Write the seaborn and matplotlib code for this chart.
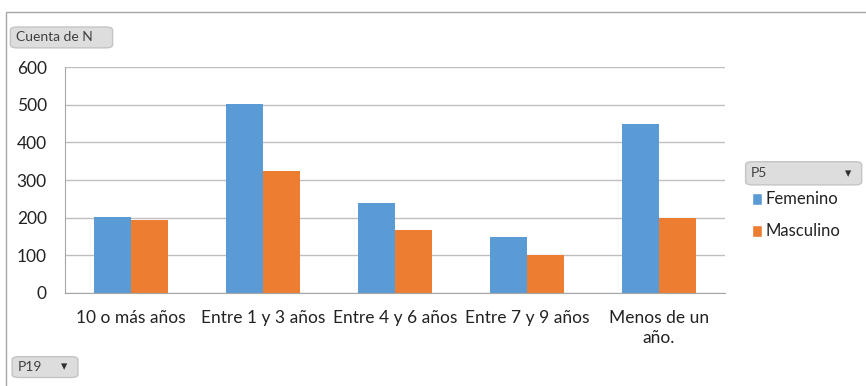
"""Cuenta de N por P19 y P5 (bar chart, Excel pivot style)."""
import matplotlib.pyplot as plt
import seaborn as sns
import pandas as pd
from matplotlib.patches import FancyBboxPatch, Rectangle

categories = ["10 o más años", "Entre 1 y 3 años", "Entre 4 y 6 años",
              "Entre 7 y 9 años", "Menos de un\naño."]
femenino = [202, 503, 238, 149, 450]
masculino = [194, 325, 167, 100, 200]
series = ["Femenino", "Masculino"]
colors = ["#5B9BD5", "#ED7D31"]

df = pd.DataFrame({
    "P19": categories * 2,
    "N": femenino + masculino,
    "P5": [series[0]] * len(categories) + [series[1]] * len(categories),
})

sns.set_style("white")
plt.rcParams['font.family'] = ['Lato', 'DejaVu Sans']

fig = plt.figure(figsize=(8.66, 3.86), dpi=100)
ax = fig.add_axes([0.075, 0.241, 0.762, 0.585])

sns.barplot(data=df, x="P19", y="N", hue="P5", palette=colors, width=0.56,
            saturation=1, linewidth=0, ax=ax, legend=False)

ax.set_ylim(0, 600)
ax.set_yticks(range(0, 601, 100))
ax.set_xlim(-0.5, len(categories) - 0.5)
ax.set_xlabel("")
ax.set_ylabel("")
ax.grid(axis="y", color="#BFBFBF", linewidth=1)
ax.set_axisbelow(True)
for s in ["top", "right"]:
    ax.spines[s].set_visible(False)
for s in ["left", "bottom"]:
    ax.spines[s].set_color("#A6A6A6")
ax.tick_params(axis="y", length=5, color="#A6A6A6", labelsize=12.5, pad=8,
               labelcolor="#222222")
ax.set_xticks(range(len(categories)))
ax.set_xticklabels(categories, linespacing=1.35)
ax.tick_params(axis="x", length=0, labelsize=12.5, pad=12, labelcolor="#222222")
# category boundary ticks
ax.set_xticks([i - 0.5 for i in range(len(categories) + 1)], minor=True)
ax.tick_params(axis="x", which="minor", length=5, color="#A6A6A6")

# outer frame
fig.patches.append(Rectangle((0.007, -0.1), 1.2, 1.069, transform=fig.transFigure,
                             fill=False, edgecolor="#A6A6A6", linewidth=1))

def button(x, y, w, h, text, arrow=False):
    fig.patches.append(FancyBboxPatch((x, y), w, h, transform=fig.transFigure,
                                      boxstyle="round,pad=0,rounding_size=0.008",
                                      facecolor="#DDDDDD", edgecolor="#C4C4C4",
                                      linewidth=1))
    fig.text(x + 0.006, y + h / 2, text, fontsize=10, va="center", ha="left",
             color="#404040")
    if arrow:
        fig.text(x + w - 0.012, y + h / 2, "▾", fontsize=9, va="center",
                 ha="right", color="#303030", family="DejaVu Sans")

button(0.012, 0.876, 0.118, 0.054, "Cuenta de N")
button(0.861, 0.521, 0.134, 0.06, "P5", arrow=True)
button(0.014, 0.022, 0.076, 0.054, "P19", arrow=True)

# legend
for i, (name, c) in enumerate(zip(series, colors)):
    yc = 0.484 - i * 0.083
    fig.patches.append(Rectangle((0.868, yc - 0.015), 0.012, 0.03,
                                 transform=fig.transFigure, facecolor=c))
    fig.text(0.884, yc, name, fontsize=12, va="center", ha="left", color="#222222")

fig.savefig("out.png", dpi=100)
plt.close(fig)
